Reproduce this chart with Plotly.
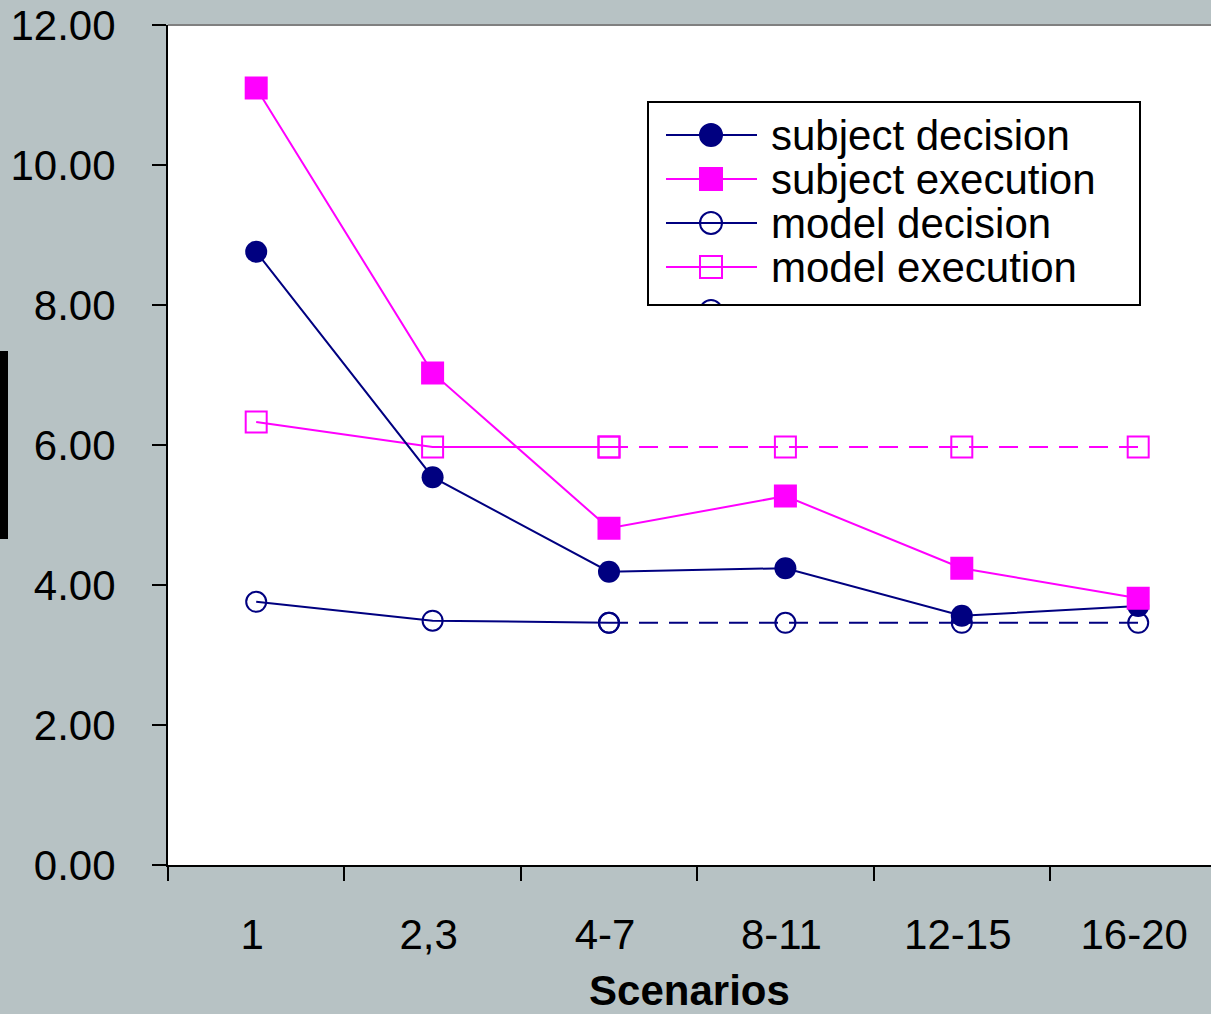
import plotly.graph_objects as go

# Scenario groups on the x axis
scenarios = ["1", "2,3", "4-7", "8-11", "12-15", "16-20"]

# Mean times per scenario group
subject_decision = [8.76, 5.54, 4.19, 4.24, 3.56, 3.70]
subject_execution = [11.10, 7.03, 4.81, 5.27, 4.24, 3.81]
model_decision = [3.76, 3.49, 3.46, 3.46, 3.46, 3.46]
model_execution = [6.33, 5.97, 5.97, 5.97, 5.97, 5.97]

y_ticks = [0, 2, 4, 6, 8, 10, 12]

NAVY = "#000080"
MAGENTA = "#FF00FF"
BG = "#B7C2C4"
FONT = "Liberation Sans, Arial, sans-serif"

W, H = 1211, 1014
L, R, T, B = 168, 0, 25, 149
PW, PH = W - L - R, H - T - B
CAT_W = 176.4  # pixel width of one category slot


def px(x):
    return (x - L) / PW


def py(y):
    return (H - B - y) / PH


fig = go.Figure()

# Model series: solid for the first groups, dashed for the repeated value
split = 2
fig.add_trace(go.Scatter(
    x=scenarios[:split + 1], y=model_decision[:split + 1], mode="lines+markers",
    line=dict(color=NAVY, width=2),
    marker=dict(symbol="circle-open", size=20, color=NAVY, line=dict(width=2)),
    showlegend=False))
fig.add_trace(go.Scatter(
    x=scenarios[split:], y=model_decision[split:], mode="lines+markers",
    line=dict(color=NAVY, width=2, dash="19px,11px"),
    marker=dict(symbol="circle-open", size=20, color=NAVY, line=dict(width=2)),
    showlegend=False))
fig.add_trace(go.Scatter(
    x=scenarios[:split + 1], y=model_execution[:split + 1], mode="lines+markers",
    line=dict(color=MAGENTA, width=2),
    marker=dict(symbol="square-open", size=21, color=MAGENTA, line=dict(width=2)),
    showlegend=False))
fig.add_trace(go.Scatter(
    x=scenarios[split:], y=model_execution[split:], mode="lines+markers",
    line=dict(color=MAGENTA, width=2, dash="19px,11px"),
    marker=dict(symbol="square-open", size=21, color=MAGENTA, line=dict(width=2)),
    showlegend=False))

# Subject series
fig.add_trace(go.Scatter(
    x=scenarios, y=subject_decision, mode="lines+markers",
    line=dict(color=NAVY, width=2),
    marker=dict(symbol="circle", size=22, color=NAVY),
    showlegend=False))
fig.add_trace(go.Scatter(
    x=scenarios, y=subject_execution, mode="lines+markers",
    line=dict(color=MAGENTA, width=2),
    marker=dict(symbol="square", size=21, color=MAGENTA,
                line=dict(color=MAGENTA, width=2)),
    showlegend=False))

shapes = []
annotations = []

# Top edge of the plotting area
shapes.append(dict(type="line", xref="paper", yref="paper", x0=0, x1=1, y0=1, y1=1,
                   line=dict(color="#808080", width=2)))
# Dark bar at the far left margin
shapes.append(dict(type="rect", xref="paper", yref="paper",
                   x0=px(0), x1=px(8), y0=py(539), y1=py(351),
                   fillcolor="black", line=dict(width=0)))

# Legend box drawn by hand
box = dict(x0=648, x1=1140, y0=102, y1=305)
shapes.append(dict(type="rect", xref="paper", yref="paper",
                   x0=px(box["x0"]), x1=px(box["x1"]), y0=py(box["y1"]), y1=py(box["y0"]),
                   fillcolor="white", line=dict(width=0), layer="above"))

entries = [
    ("subject decision", NAVY, "circle", True),
    ("subject execution", MAGENTA, "square", True),
    ("model decision", NAVY, "circle", False),
    ("model execution", MAGENTA, "square", False),
    ("", NAVY, "circle", False),
]
row0, row_gap = 135, 44
for i, (label, color, sym, filled) in enumerate(entries):
    yc = row0 + i * row_gap
    if label:
        shapes.append(dict(type="line", xref="paper", yref="paper",
                           x0=px(666), x1=px(757), y0=py(yc), y1=py(yc),
                           line=dict(color=color, width=2), layer="above"))
    r = 11
    shapes.append(dict(type="circle" if sym == "circle" else "rect",
                       xref="paper", yref="paper",
                       x0=px(711 - r), x1=px(711 + r), y0=py(yc + r), y1=py(yc - r),
                       fillcolor=color if filled else "rgba(0,0,0,0)",
                       line=dict(color=color, width=2), layer="above"))
    if label:
        annotations.append(dict(text=label, xref="paper", yref="paper",
                                x=px(769), y=py(yc), xanchor="left", yanchor="middle",
                                showarrow=False, font=dict(family=FONT, size=42, color="black")))

# Cover the part of the last entry that falls below the box
shapes.append(dict(type="rect", xref="paper", yref="paper",
                   x0=px(690), x1=px(735), y0=py(330), y1=py(box["y1"] + 1),
                   fillcolor="white", line=dict(width=0), layer="above"))
shapes.append(dict(type="rect", xref="paper", yref="paper",
                   x0=px(box["x0"]), x1=px(box["x1"]), y0=py(box["y1"]), y1=py(box["y0"]),
                   fillcolor="rgba(0,0,0,0)", line=dict(color="black", width=2), layer="above"))

fig.update_layout(
    width=W, height=H,
    margin=dict(l=L, r=R, t=T, b=B, pad=0),
    paper_bgcolor=BG, plot_bgcolor="white",
    font=dict(family=FONT, size=42, color="black"),
    showlegend=False,
    shapes=shapes, annotations=annotations,
    xaxis=dict(
        type="category", categoryorder="array", categoryarray=scenarios,
        range=[-0.5, -0.5 + PW / CAT_W],
        tickson="boundaries", ticks="outside", ticklen=14, tickwidth=2, tickcolor="black",
        showline=True, linecolor="black", linewidth=2, showgrid=False, zeroline=False,
        tickfont=dict(family=FONT, size=42, color="black"),
        ticklabelstandoff=32, ticklabelshift=-4,
        title=dict(text="<b>Scenarios</b>", standoff=24,
                   font=dict(family=FONT, size=42, color="black")),
    ),
    yaxis=dict(
        range=[0, 12], tickvals=y_ticks, tickformat=".2f",
        ticks="outside", ticklen=14, tickwidth=2, tickcolor="black",
        showline=True, linecolor="black", linewidth=2, showgrid=False, zeroline=False,
        tickfont=dict(family=FONT, size=42, color="black"), ticklabelstandoff=28,
    ),
)

fig.write_html("out.html")
